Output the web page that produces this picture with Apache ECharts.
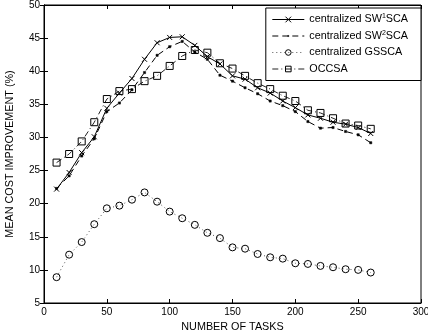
<!DOCTYPE html>
<html>
<head>
<meta charset="utf-8">
<script src="https://cdn.jsdelivr.net/npm/echarts@6/dist/echarts.min.js"></script>
<style>html,body{margin:0;padding:0;background:#fff}#c{width:428px;height:336px}</style>
</head>
<body>
<div id="c"></div>
<script>
var tasks = [10,20,30,40,50,60,70,80,90,100,110,120,130,140,150,160,170,180,190,200,210,220,230,240,250,260];
var sw1 = [22.2,24.7,27.7,30.1,34.4,36.7,38.9,41.8,44.3,45.1,45.2,43.9,42.2,41.1,39.3,38.8,37.5,36.7,35.5,34.5,33.4,32.9,32.3,32.0,31.5,30.6];
var sw2 = [22.3,24.2,27.2,29.8,33.9,35.2,37.2,39.8,42.4,43.7,44.5,42.9,41.8,39.4,38.5,37.5,36.6,35.5,34.8,33.9,32.4,31.4,31.5,30.9,30.4,29.2];
var gsSca = [8.9,12.3,14.2,16.9,19.3,19.7,20.6,21.7,20.3,18.8,17.8,16.8,15.6,14.8,13.4,13.2,12.4,11.9,11.7,11.0,10.9,10.6,10.4,10.1,10.0,9.6];
var occsa = [26.2,27.5,29.4,32.3,35.8,37.0,37.3,38.5,39.3,40.8,42.3,43.2,42.8,41.2,40.4,39.3,38.2,37.3,36.3,35.5,34.1,33.7,32.9,32.1,31.8,31.3];
var names = ['centralized SW1SCA','centralized SW2SCA','centralized GSSCA','OCCSA'];
var legendRich = {
  'centralized SW1SCA': '{t|centralized SW}{s|1}{t|SCA}',
  'centralized SW2SCA': '{t|centralized SW}{s|2}{t|SCA}',
  'centralized GSSCA': '{t|centralized GSSCA}',
  'OCCSA': '{t|OCCSA}'
};
var xTicks = {min:0, max:300, interval:50};
var yTicks = {min:5, max:50, interval:5};

function pairs(v){ return tasks.map(function(t,i){ return [t, v[i]]; }); }
var FONT = '"Liberation Sans", Arial, Helvetica, sans-serif';
var NAMEFS = 10.8;
var styles = [
  {symbol:'path://M0,0L10,10M10,0L0,10', size:5, line:{color:'#000', width:1, type:'solid'}, item:{color:'none', borderColor:'#000', borderWidth:1}},
  {symbol:'path://M0,0M10,10M4,4L6,4L6,6L4,6Z', size:11, line:{color:'#000', width:1, type:[6,4]}, item:{color:'#000', borderColor:'#000', borderWidth:0.5}},
  {symbol:'circle', size:7, line:{color:'#555', width:1, type:[1,3]}, item:{color:'none', borderColor:'#000', borderWidth:1}},
  {symbol:'rect', size:7, line:{color:'#222', width:1, type:[6,3,1,3]}, item:{color:'none', borderColor:'#000', borderWidth:1}}
];
var chart = echarts.init(document.getElementById('c'), null, {renderer:'canvas'});
var axisCommon = {
  axisLine:{show:true, lineStyle:{color:'#000', width:1}},
  axisTick:{show:true, inside:true, length:4, lineStyle:{color:'#000', width:1}},
  splitLine:{show:false}
};
chart.setOption({
  animation:false,
  backgroundColor:'#fff',
  textStyle:{fontFamily:FONT},
  grid:{left:44, right:7, top:5, bottom:33, show:true, borderColor:'#000', borderWidth:1, containLabel:false, outerBoundsMode:'none'},
  legend:{
    data:names.map(function(n,i){ return {name:n, lineStyle:styles[i].line, itemStyle:styles[i].item}; }),
    orient:'vertical', right:7, top:8,
    backgroundColor:'#fff', borderColor:'#000', borderWidth:1,
    padding:[5,13,5,6], itemGap:3.5, itemWidth:32, itemHeight:7,
    formatter:function(n){ return legendRich[n]; },
    textStyle:{color:'#000', fontFamily:FONT, fontSize:NAMEFS, lineHeight:13,
      rich:{t:{fontSize:NAMEFS, color:'#000', fontFamily:FONT, lineHeight:13},
            s:{fontSize:7, color:'#000', fontFamily:FONT, verticalAlign:'top', lineHeight:13, padding:[0,0,4,0]}}}
  },
  xAxis:[
    Object.assign({type:'value', min:xTicks.min, max:xTicks.max, interval:xTicks.interval, position:'bottom',
      name:'NUMBER OF TASKS', nameLocation:'middle', nameGap:16,
      nameTextStyle:{color:'#000', fontSize:NAMEFS, fontFamily:FONT},
      axisLabel:{color:'#000', fontSize:10, margin:4, fontFamily:FONT}}, axisCommon),
    Object.assign({type:'value', min:xTicks.min, max:xTicks.max, interval:xTicks.interval, position:'top',
      axisLabel:{show:false}}, axisCommon)
  ],
  yAxis:[
    Object.assign({type:'value', min:yTicks.min, max:yTicks.max, interval:yTicks.interval, position:'left',
      name:'MEAN COST IMPROVEMENT (%)', nameLocation:'middle', nameGap:28,
      nameTextStyle:{color:'#000', fontSize:NAMEFS, fontFamily:FONT},
      axisLabel:{color:'#000', fontSize:10, margin:4, fontFamily:FONT}}, axisCommon),
    Object.assign({type:'value', min:yTicks.min, max:yTicks.max, interval:yTicks.interval, position:'right',
      axisLabel:{show:false}}, axisCommon)
  ],
  series:[sw1, sw2, gsSca, occsa].map(function(v,i){
    return {name:names[i], type:'line', data:pairs(v), symbol:styles[i].symbol, symbolSize:styles[i].size,
      lineStyle:styles[i].line, itemStyle:styles[i].item, emphasis:{disabled:true}};
  })
});
</script>
</body>
</html>
